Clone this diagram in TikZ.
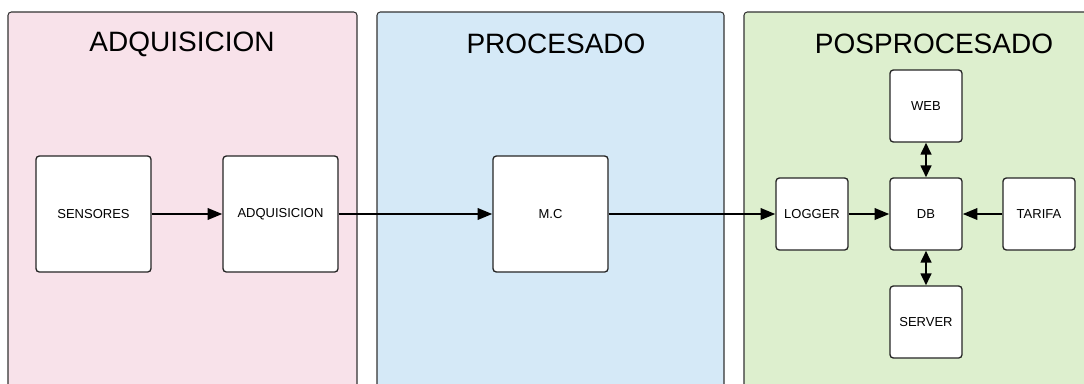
\documentclass[tikz,border=0pt]{standalone}
\usepackage{fontspec}
\setmainfont{Liberation Sans}
\usetikzlibrary{arrows.meta}
\definecolor{pinkbg}{HTML}{F8E2EA}
\definecolor{bluebg}{HTML}{D5E9F7}
\definecolor{greenbg}{HTML}{DDEFCE}
\definecolor{edgegray}{HTML}{333333}
\tikzset{
  panel/.style={draw=edgegray, line width=0.8pt, rounded corners=2.5pt},
  title/.style={font=\fontsize{21}{24}\selectfont, inner sep=0pt},
  block/.style={draw=black!85, line width=1pt, fill=white, rounded corners=2.5pt,
    minimum width=86.25pt, minimum height=87pt, inner sep=0pt,
    font=\fontsize{9.75}{11}\selectfont},
  sblock/.style={block, minimum width=54pt, minimum height=54pt},
  flow/.style={line width=1.8pt, -{Triangle[length=11pt,width=8.5pt]}},
  bflow/.style={line width=1.8pt, {Triangle[length=9pt,width=8pt]}-{Triangle[length=9pt,width=8pt]}},
}
\begin{document}
\begin{tikzpicture}[x=0.75pt, y=-0.75pt]
\useasboundingbox (0,0) rectangle (1084,383);
\clip (0,0) rectangle (1084,383);
\fill[white] (0,0) rectangle (1084,383);

% three stages
\draw[panel, fill=pinkbg] (8,12) rectangle (357,400);
\draw[panel, fill=bluebg] (377,12) rectangle (724,400);
\draw[panel, fill=greenbg] (744,12) rectangle (1100,400);

\node[title] (tadq) at (182,44) {ADQUISICION};
\node[title] (tproc) at (556,44) {PROCESADO};
\node[title] (tpos) at (934,44) {POSPROCESADO};

% blocks
\node[block] (sens) at (93.5,214) {SENSORES};
\node[block] (adq) at (280.5,214) {ADQUISICION};
\node[block] (mc) at (550.5,214) {M.C};
\node[sblock] (logger) at (812,214) {LOGGER};
\node[sblock] (db) at (926,214) {DB};
\node[sblock] (web) at (926,106) {WEB};
\node[sblock] (server) at (926,322) {SERVER};
\node[sblock] (tarifa) at (1039,214) {TARIFA};

% connectors
\draw[flow] (sens) -- (adq);
\draw[flow] (adq) -- (mc);
\draw[flow] (mc) -- (logger);
\draw[flow] (logger) -- (db);
\draw[flow] (tarifa) -- (db);
\draw[bflow] (db) -- (web);
\draw[bflow] (db) -- (server);
\end{tikzpicture}
\end{document}
